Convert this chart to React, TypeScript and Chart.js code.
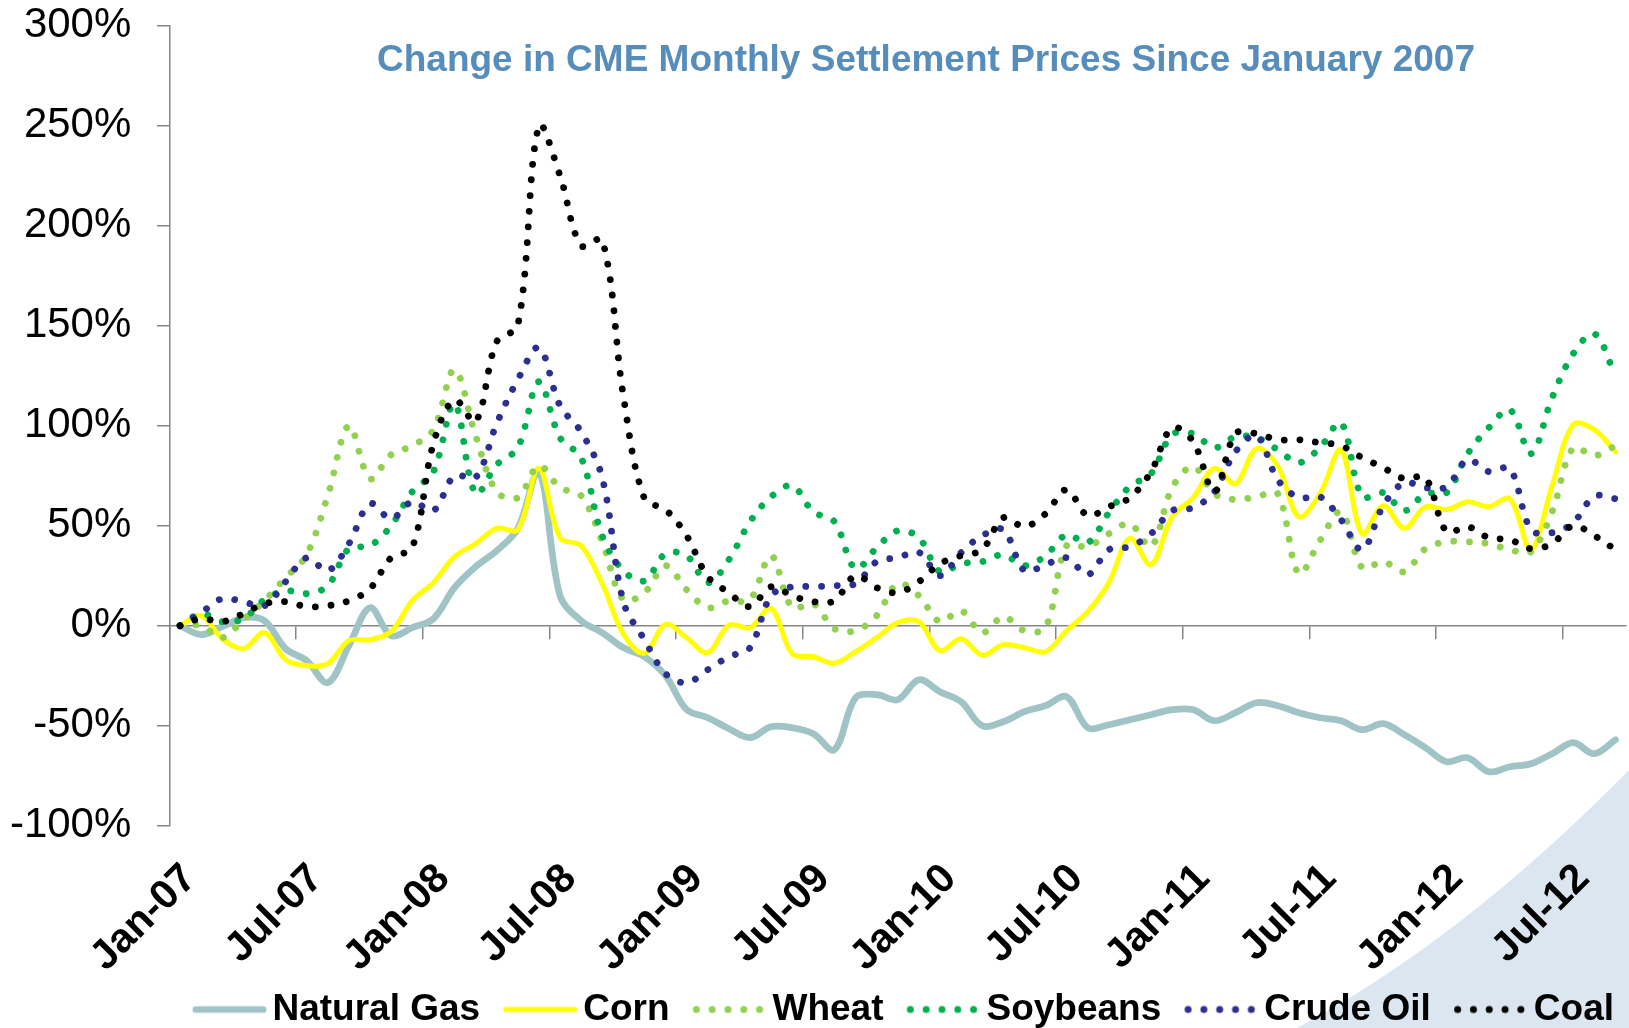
import React, { useEffect, useRef } from 'react';
import { Chart, registerables } from 'chart.js';

Chart.register(...registerables);

const FONT = "'Liberation Sans', Arial, Helvetica, sans-serif";
const TITLE = 'Change in CME Monthly Settlement Prices Since January 2007';

const months = [
  'Jan-07', 'Feb-07', 'Mar-07', 'Apr-07', 'May-07', 'Jun-07', 'Jul-07', 'Aug-07', 'Sep-07', 'Oct-07', 'Nov-07', 'Dec-07',
  'Jan-08', 'Feb-08', 'Mar-08', 'Apr-08', 'May-08', 'Jun-08', 'Jul-08', 'Aug-08', 'Sep-08', 'Oct-08', 'Nov-08', 'Dec-08',
  'Jan-09', 'Feb-09', 'Mar-09', 'Apr-09', 'May-09', 'Jun-09', 'Jul-09', 'Aug-09', 'Sep-09', 'Oct-09', 'Nov-09', 'Dec-09',
  'Jan-10', 'Feb-10', 'Mar-10', 'Apr-10', 'May-10', 'Jun-10', 'Jul-10', 'Aug-10', 'Sep-10', 'Oct-10', 'Nov-10', 'Dec-10',
  'Jan-11', 'Feb-11', 'Mar-11', 'Apr-11', 'May-11', 'Jun-11', 'Jul-11', 'Aug-11', 'Sep-11', 'Oct-11', 'Nov-11', 'Dec-11',
  'Jan-12', 'Feb-12', 'Mar-12', 'Apr-12', 'May-12', 'Jun-12', 'Jul-12', 'Aug-12', 'Sep-12',
];

const tickMonths = [
  'Jan-07', 'Jul-07', 'Jan-08', 'Jul-08', 'Jan-09', 'Jul-09',
  'Jan-10', 'Jul-10', 'Jan-11', 'Jul-11', 'Jan-12', 'Jul-12',
];

const yTickLabels = ['-100%', '-50%', '0%', '50%', '100%', '150%', '200%', '250%', '300%'];

const naturalGas = [
  0, -4.5, -0.5, 4, 2.5, -11.5, -17.5, -28.5, -10, 9, -5, -1,
  3.5, 19, 29.5, 37.5, 48.5, 77, 15, 2.5, -3.5, -11, -15.5, -25,
  -42, -46, -51.5, -56, -50.5, -51, -54, -62, -36, -34.5, -37, -27,
  -33, -38, -50, -48, -43, -40, -35.5, -51, -49.5, -47, -44.5, -42,
  -42, -47.5, -43.5, -38.5, -40, -43.5, -46, -47.5, -52, -49, -54.5, -61,
  -68, -66, -73, -70.5, -69, -64, -58.5, -64, -57,
];

const corn = [
  0, 5, -6.5, -11.5, -3.5, -17, -20, -19, -7.5, -7, -3, 12.5,
  21.5, 34.5, 41, 48.7, 48, 78.7, 44, 40, 21, -4, -13.8, 0.7,
  -6, -13.5, 0.3, -1, 8.7, -14, -15.5, -18.8, -13, -6, 1.5, 2,
  -12.5, -6.5, -14.7, -9.5, -11, -13, -2.5, 7, 21.5, 43.7, 30.5, 54.5,
  64, 78.7, 71, 88.5, 80, 54.5, 66, 87.8, 46, 60, 48.7, 59.5,
  58, 62, 59.5, 63.5, 38, 70, 100.5, 98, 87,
];

const wheat = [
  0, 0, -6, 3, 12.5, 24, 35.5, 65, 100, 73.5, 85.5, 90,
  98, 128, 95, 67, 64, 80, 69, 65, 42, 13, 16.5, 30,
  18, 9, 12.5, 13, 35, 9, 11, -1.5, -2.5, 5, 21, 15,
  2, 7.5, -3.5, 4.5, -2.5, -1, 40, 39.5, 46, 51, 39.5, 69,
  79.5, 66, 63, 64.5, 66, 26, 42.5, 57, 29, 32, 27, 38.5,
  42, 42, 41, 38, 37, 57, 89, 85, 90,
];

const soybeans = [
  0, 6, 2, 3.5, 13, 17.5, 16, 20, 38.5, 40, 50, 67,
  77, 111, 66, 80.5, 89, 122, 94, 84, 45, 27.5, 22.5, 36,
  35, 21.5, 33, 52, 64.5, 70, 57, 52, 28.5, 39, 47.5, 44,
  27, 31, 32, 35.5, 30, 35, 45.5, 41.5, 56.5, 69.7, 76, 95.5,
  96, 89, 94.5, 94, 88, 81.5, 89, 101.5, 64.5, 66.5, 57.5, 66,
  66.5, 86, 99, 108, 86, 114, 136, 146, 125,
];

const crudeOil = [
  0, 6.5, 13.5, 12, 10, 22, 34, 27.5, 41, 61, 53.5, 62,
  57.5, 75, 74, 101, 123, 139, 110, 97, 74, 12, -7, -24,
  -28.5, -22, -15.5, -11, 15, 19.5, 19.5, 20, 21, 32, 34, 36.7,
  25, 36.5, 45, 48, 27.5, 30.5, 34, 25.5, 38, 39.5, 46, 57.5,
  59, 67, 87, 95, 73, 64, 64.5, 53, 38, 60, 71.5, 69,
  69.5, 83, 77, 78.5, 48, 46.5, 51.5, 64.7, 63.5,
];

const coal = [
  0, 3.5, 2, 6, 11, 12, 9.5, 10, 12.5, 18.5, 34, 39,
  91, 113, 102, 142, 150, 250, 225, 190, 193, 115, 63.5, 58,
  45, 24.5, 16.5, 9.5, 19.5, 15, 12, 12.5, 25, 19, 16.5, 22,
  31, 35, 38, 54, 49.5, 56, 68, 55, 59.5, 64, 77, 99,
  92, 67, 96, 96, 93, 93, 91.5, 90, 84, 79, 73.5, 74,
  47, 49.5, 44, 43, 38.5, 41, 50, 45, 38,
];

type Kind = 'solid' | 'dot';
interface SeriesDef {
  label: string;
  data: number[];
  color: string;
  kind: Kind;
  width: number;
}

const seriesDefs: SeriesDef[] = [
  { label: 'Natural Gas', data: naturalGas, color: '#A0C4C6', kind: 'solid', width: 6.7 },
  { label: 'Corn', data: corn, color: '#FFFF00', kind: 'solid', width: 5 },
  { label: 'Wheat', data: wheat, color: '#92D050', kind: 'dot', width: 6.8 },
  { label: 'Soybeans', data: soybeans, color: '#00B050', kind: 'dot', width: 6.8 },
  { label: 'Crude Oil', data: crudeOil, color: '#2B2F8F', kind: 'dot', width: 6.8 },
  { label: 'Coal', data: coal, color: '#000000', kind: 'dot', width: 6.8 },
];

function makeLegendIcon(s: SeriesDef): HTMLCanvasElement {
  const c = document.createElement('canvas');
  c.width = 102;
  c.height = 14;
  const g = c.getContext('2d') as CanvasRenderingContext2D;
  if (s.kind === 'solid') {
    g.strokeStyle = s.color;
    g.lineWidth = s.width;
    g.lineCap = 'round';
    g.beginPath();
    g.moveTo(25.75 + s.width / 2, 7);
    g.lineTo(99.75 - s.width / 2, 7);
    g.stroke();
  } else {
    g.fillStyle = s.color;
    for (let k = 0; k < 5; k++) {
      g.beginPath();
      g.arc(29.55 + k * 15.8, 7, 3.5, 0, Math.PI * 2);
      g.fill();
    }
  }
  return c;
}

const swooshPlugin = {
  id: 'swoosh',
  beforeDraw(chart: any) {
    const { ctx, width, height } = chart;
    ctx.save();
    ctx.fillStyle = '#DCE6F0';
    ctx.beginPath();
    ctx.moveTo(width - 332, height);
    ctx.quadraticCurveTo(width - 166, height - 89, width, height - 258);
    ctx.lineTo(width, height);
    ctx.closePath();
    ctx.fill();
    ctx.restore();
  },
};

const titlePlugin = {
  id: 'cmeTitle',
  afterDraw(chart: any) {
    const { ctx, chartArea } = chart;
    ctx.save();
    ctx.font = `bold 37px ${FONT}`;
    ctx.fillStyle = '#568DBB';
    ctx.textAlign = 'left';
    ctx.textBaseline = 'alphabetic';
    ctx.fillText(TITLE, chartArea.left + 207.5, 71);
    ctx.restore();
  },
};

export default function App() {
  const ref = useRef<HTMLCanvasElement | null>(null);

  useEffect(() => {
    const canvas = ref.current;
    if (!canvas) return;
    const icons = seriesDefs.map((s) => makeLegendIcon(s));
    const n = seriesDefs.length;

    const chart = new Chart(canvas, {
      type: 'line',
      data: {
        labels: months,
        datasets: seriesDefs.map((s, i) => ({
          label: s.label,
          data: s.data,
          borderColor: s.color,
          backgroundColor: s.color,
          borderWidth: s.width,
          borderDash: s.kind === 'dot' ? [0.01, 15.7] : [],
          borderCapStyle: 'round',
          borderJoinStyle: 'round',
          pointRadius: 0,
          pointHoverRadius: 0,
          tension: 0.35,
          fill: false,
          order: n - i,
          xAxisID: 'x',
          yAxisID: 'y',
        })),
      },
      options: {
        animation: false,
        responsive: true,
        maintainAspectRatio: false,
        devicePixelRatio: 1,
        events: [],
        layout: { padding: { left: 0, right: 3, top: 25.7, bottom: -10 } },
        plugins: {
          title: { display: false },
          tooltip: { enabled: false },
          legend: {
            display: true,
            position: 'bottom',
            align: 'end',
            labels: {
              usePointStyle: true,
              pointStyleWidth: 72.5,
              padding: 12,
              color: '#000000',
              font: { family: FONT, size: 37, weight: 'bold' },
              generateLabels: (ch: any) =>
                ch.data.datasets.map((ds: any, i: number) => ({
                  text: ds.label,
                  pointStyle: icons[i],
                  fillStyle: 'rgba(0,0,0,0)',
                  strokeStyle: 'rgba(0,0,0,0)',
                  lineWidth: 0,
                  hidden: false,
                  datasetIndex: i,
                  fontColor: '#000000',
                })),
            },
          },
        },
        scales: {
          x: {
            type: 'category',
            position: { y: 0 },
            offset: true,
            ticks: { display: false, autoSkip: false },
            grid: {
              offset: true,
              drawOnChartArea: false,
              drawTicks: true,
              tickLength: 12.7,
              lineWidth: 1.5,
              color: (c: any) =>
                c.index !== undefined && c.index % 6 === 0 ? '#868686' : 'rgba(0,0,0,0)',
            },
            border: { display: true, color: '#868686', width: 1.5 },
            afterFit: (s: any) => {
              s.paddingLeft = 0;
              s.paddingRight = 0;
              s.paddingTop = 0;
              s.paddingBottom = 0;
            },
          },
          x2: {
            type: 'category',
            position: 'bottom',
            offset: true,
            grid: { display: false, drawTicks: false },
            border: { display: false },
            ticks: {
              autoSkip: false,
              minRotation: 45,
              maxRotation: 45,
              padding: 29,
              labelOffset: 10,
              color: '#000000',
              font: { family: FONT, size: 41, weight: 'bold' },
              callback: (_v: any, i: number) =>
                tickMonths.indexOf(months[i]) >= 0 ? months[i] : '',
            },
            afterFit: (s: any) => {
              s.height = 153.3;
              s.paddingLeft = 0;
              s.paddingRight = 0;
            },
          },
          y: {
            type: 'linear',
            position: 'left',
            min: -100,
            max: 300,
            ticks: {
              stepSize: 50,
              padding: 25.7,
              color: '#000000',
              font: { family: FONT, size: 42 },
              callback: (_v: any, i: number) => yTickLabels[i],
            },
            grid: {
              drawOnChartArea: false,
              drawTicks: true,
              tickLength: 12.5,
              lineWidth: 1.5,
              color: '#868686',
            },
            border: { display: true, color: '#868686', width: 1.5 },
            afterFit: (s: any) => {
              s.width = 169.5;
              s.paddingTop = 0;
              s.paddingBottom = 0;
            },
          },
        },
      } as any,
      plugins: [swooshPlugin, titlePlugin],
    });

    return () => chart.destroy();
  }, []);

  return (
    <div style={{ position: 'absolute', left: 0, top: 0, width: 1629, height: 1028 }}>
      <canvas ref={ref} />
    </div>
  );
}
